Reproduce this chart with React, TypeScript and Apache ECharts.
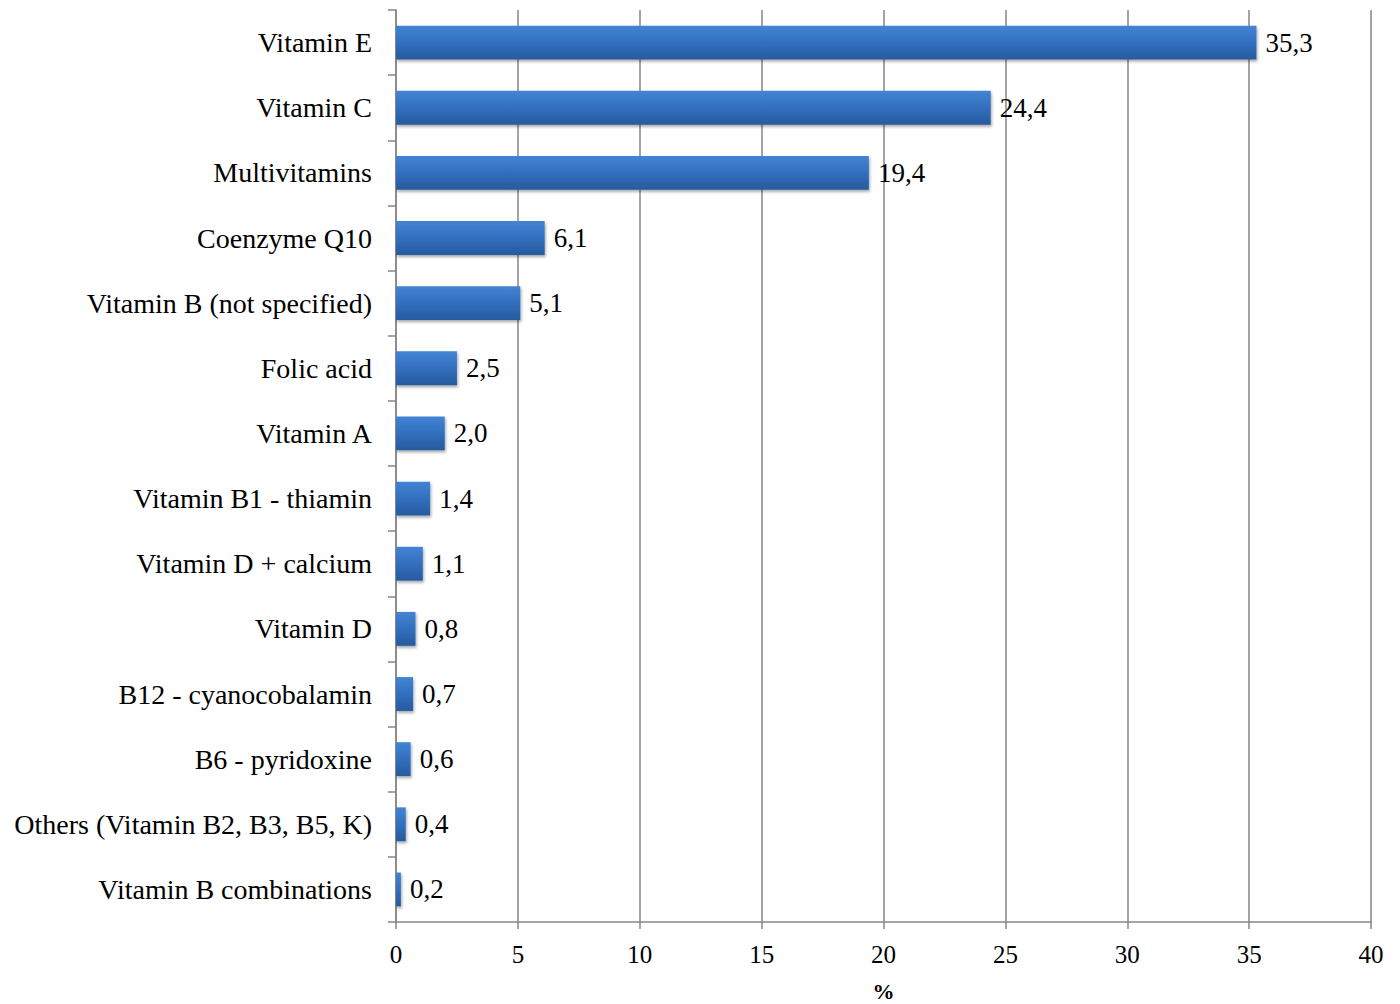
import React, { useEffect, useRef } from "react";
import * as echarts from "echarts";

const categories = [
  "Vitamin E",
  "Vitamin C",
  "Multivitamins",
  "Coenzyme Q10",
  "Vitamin B (not specified)",
  "Folic acid",
  "Vitamin A",
  "Vitamin B1 - thiamin",
  "Vitamin D + calcium",
  "Vitamin D",
  "B12 - cyanocobalamin",
  "B6 - pyridoxine",
  "Others (Vitamin B2, B3, B5, K)",
  "Vitamin B combinations",
];
const values = [35.3, 24.4, 19.4, 6.1, 5.1, 2.5, 2.0, 1.4, 1.1, 0.8, 0.7, 0.6, 0.4, 0.2];
const xTicks = { min: 0, max: 40, interval: 5 };

const FONT = "'Liberation Serif', 'Times New Roman', serif";

export default function App() {
  const ref = useRef<HTMLDivElement>(null);
  useEffect(() => {
    document.body.style.margin = "0";
    if (!ref.current) return;
    const chart = echarts.init(ref.current, null, { renderer: "svg" });
    chart.setOption({
      animation: false,
      backgroundColor: "#ffffff",
      grid: {
        left: 396,
        right: 29,
        top: 10,
        bottom: 82,
        containLabel: false,
        outerBoundsMode: "none",
      },
      xAxis: {
        type: "value",
        min: xTicks.min,
        max: xTicks.max,
        interval: xTicks.interval,
        name: "%",
        nameLocation: "middle",
        nameGap: 58,
        nameTextStyle: { fontFamily: FONT, fontSize: 22, fontWeight: "bold", color: "#000" },
        axisLine: { show: true, lineStyle: { color: "#868686", width: 1.5 } },
        axisTick: { show: true, length: 7, lineStyle: { color: "#868686", width: 1.5 } },
        axisLabel: { fontFamily: FONT, fontSize: 25, color: "#000", margin: 20 },
        splitLine: { show: true, lineStyle: { color: "#868686", width: 1.5 } },
      },
      yAxis: {
        type: "category",
        data: categories,
        inverse: true,
        axisLine: { show: true, lineStyle: { color: "#868686", width: 1.5 } },
        axisTick: { show: true, length: 8, inside: false, lineStyle: { color: "#868686", width: 1.5 } },
        axisLabel: { fontFamily: FONT, fontSize: 28, color: "#000", margin: 24 },
        splitLine: { show: false },
      },
      series: [
        {
          type: "bar",
          data: values,
          barCategoryGap: "48%",
          itemStyle: {
            color: new echarts.graphic.LinearGradient(0, 0, 0, 1, [
              { offset: 0, color: "#4384d4" },
              { offset: 0.5, color: "#326fbe" },
              { offset: 1, color: "#275a9e" },
            ]),
            shadowColor: "rgba(0,0,0,0.35)",
            shadowBlur: 3,
            shadowOffsetY: 2,
            shadowOffsetX: 1,
          },
          label: {
            show: true,
            position: "right",
            distance: 9,
            fontFamily: FONT,
            fontSize: 27,
            color: "#000",
            formatter: (p: any) => Number(p.value).toFixed(1).replace(".", ","),
          },
        },
      ],
    });
    return () => chart.dispose();
  }, []);
  return <div ref={ref} style={{ width: 1400, height: 1004 }} />;
}
